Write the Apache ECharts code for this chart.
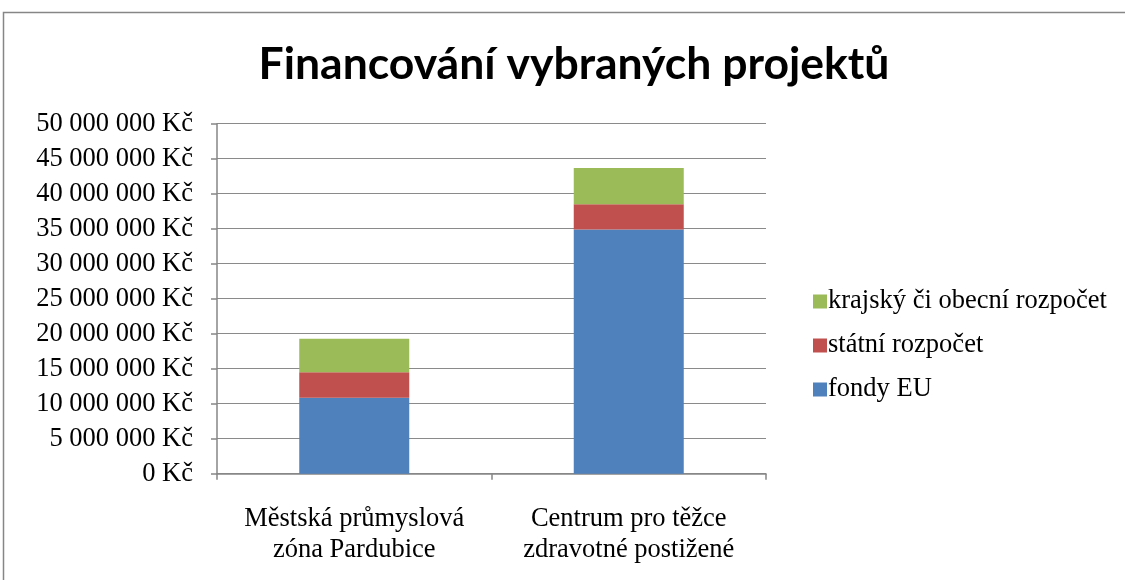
<!DOCTYPE html>
<html>
<head>
<meta charset="utf-8">
<script src="https://cdn.jsdelivr.net/npm/echarts@6/dist/echarts.min.js"></script>
<style>html,body{margin:0;padding:0;background:#fff}#c{width:1125px;height:580px}</style>
</head>
<body>
<div id="c"></div>
<script>
const categories = ['Městská průmyslová\nzóna Pardubice', 'Centrum pro těžce\nzdravotné postižené'];
const fondyEU = [10860000, 34900000];
const statniRozpocet = [3620000, 3590000];
const krajskyRozpocet = [4810000, 5180000];
const seriesNames = ['fondy EU', 'státní rozpočet', 'krajský či obecní rozpočet'];
const legendOrder = ['krajský či obecní rozpočet', 'státní rozpočet', 'fondy EU'];

function fmt(v) {
  const s = String(Math.round(v)).replace(/\B(?=(\d{3})+(?!\d))/g, ' ');
  return s + ' Kč';
}

const chart = echarts.init(document.getElementById('c'));
const serif = 'Liberation Serif';
chart.setOption({
  animation: false,
  backgroundColor: '#fff',
  title: {
    text: 'Financování vybraných projektů',
    left: 569, top: 37, textAlign: 'center',
    textStyle: { fontFamily: 'Lato', fontWeight: 'bold', fontSize: 44.5, color: '#000' }
  },
  graphic: [{
    type: 'rect', shape: { x: 3.5, y: 12.5, width: 1300, height: 800 },
    style: { fill: null, stroke: '#868686', lineWidth: 1.5 }, silent: true
  }],
  legend: {
    data: legendOrder, orient: 'vertical', left: 808, top: 283,
    icon: 'rect', itemWidth: 14, itemHeight: 14, itemGap: 17,
    textStyle: { fontFamily: serif, fontSize: 26.5, color: '#000', padding: [0, 0, 0, -4] }
  },
  grid: { left: 217, right: 359, top: 123.7, bottom: 106.3 },
  xAxis: {
    type: 'category', data: categories,
    axisLine: { lineStyle: { color: '#868686', width: 1.5 } },
    axisTick: { show: true, alignWithLabel: false, length: 6, lineStyle: { color: '#868686', width: 1.5 } },
    axisLabel: { interval: 0, fontFamily: serif, fontSize: 26.5, color: '#000', lineHeight: 31, margin: 30 }
  },
  yAxis: {
    type: 'value', min: 0, max: 50000000, interval: 5000000,
    axisLine: { show: true, lineStyle: { color: '#868686', width: 1.5 } },
    axisTick: { show: true, length: 6, lineStyle: { color: '#868686', width: 1.5 } },
    splitLine: { lineStyle: { color: '#8a8a8a', width: 1.2 } },
    axisLabel: { fontFamily: serif, fontSize: 26.5, color: '#000', margin: 24, formatter: fmt }
  },
  series: [
    { name: seriesNames[0], type: 'bar', stack: 's', data: fondyEU, barWidth: 110, itemStyle: { color: '#4F81BD' } },
    { name: seriesNames[1], type: 'bar', stack: 's', data: statniRozpocet, barWidth: 110, itemStyle: { color: '#C0504D' } },
    { name: seriesNames[2], type: 'bar', stack: 's', data: krajskyRozpocet, barWidth: 110, itemStyle: { color: '#9BBB59' } }
  ]
});
</script>
</body>
</html>
